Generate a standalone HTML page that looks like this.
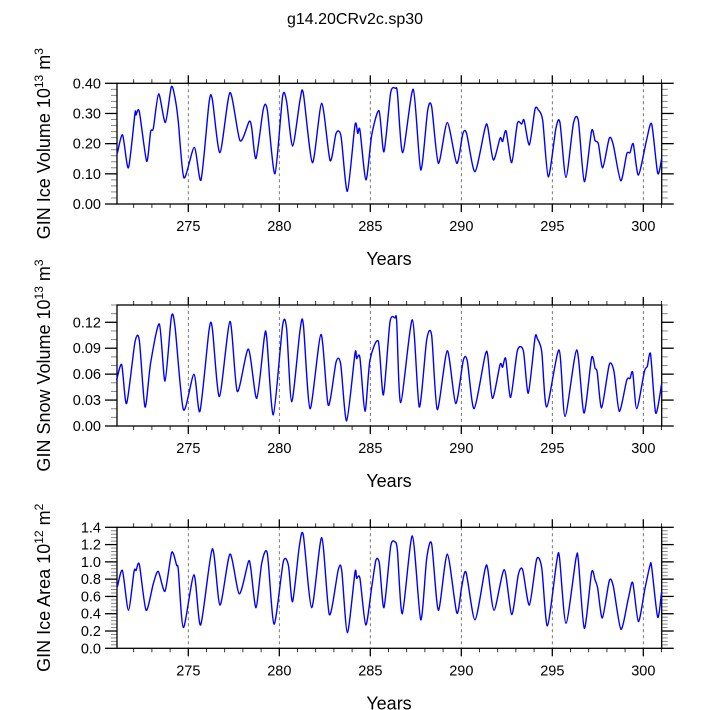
<!DOCTYPE html>
<html><head><meta charset="utf-8"><style>
body{margin:0;background:#fff}
svg{display:block;font-family:"Liberation Sans",Arial,sans-serif}
</style></head><body>
<svg id="chart" width="710" height="710" viewBox="0 0 710 710">
<text x="355" y="24" text-anchor="middle" font-size="16">g14.20CRv2c.sp30</text>
</svg>
<script>
// ---- Data ----
const iceVolYears=[271.10,271.39,271.71,272.07,272.13,272.31,272.71,272.93,273.08,273.37,273.74,274.07,274.29,274.45,274.76,275.33,275.70,276.14,276.32,276.74,277.29,277.84,278.34,278.48,278.72,279.12,279.34,279.76,280.18,280.40,280.73,281.14,281.32,281.82,282.33,282.79,283.12,283.39,283.74,284.16,284.31,284.43,284.76,285.08,285.48,285.75,286.12,286.39,286.49,286.78,287.36,287.77,288.15,288.37,288.74,289.23,289.75,290.08,290.29,290.75,291.30,291.45,291.76,292.13,292.27,292.46,292.77,293.08,293.32,293.45,293.74,294.05,294.23,294.47,294.78,295.20,295.42,295.75,296.16,296.43,296.76,297.16,297.35,297.53,297.77,298.13,298.35,298.76,299.09,299.27,299.45,299.73,300.18,300.46,300.79,301.01];
const iceVolValues=[0.168,0.229,0.120,0.300,0.295,0.306,0.142,0.240,0.251,0.365,0.270,0.389,0.345,0.273,0.087,0.188,0.080,0.336,0.347,0.170,0.369,0.210,0.273,0.254,0.151,0.314,0.312,0.100,0.356,0.340,0.192,0.345,0.367,0.137,0.334,0.144,0.234,0.225,0.042,0.262,0.234,0.245,0.080,0.229,0.309,0.173,0.369,0.383,0.368,0.170,0.380,0.113,0.309,0.323,0.135,0.270,0.135,0.232,0.234,0.107,0.251,0.256,0.146,0.218,0.207,0.242,0.137,0.267,0.265,0.278,0.196,0.314,0.312,0.278,0.090,0.251,0.270,0.088,0.267,0.276,0.074,0.243,0.210,0.200,0.120,0.218,0.196,0.077,0.166,0.170,0.199,0.096,0.212,0.265,0.102,0.151];

const snowYears=[271.06,271.34,271.61,272.07,272.31,272.62,272.93,273.41,273.72,274.07,274.27,274.73,275.31,275.64,276.14,276.32,276.71,277.29,277.69,278.30,278.76,279.18,279.31,279.67,280.18,280.40,280.68,281.14,281.32,281.69,282.29,282.69,283.12,283.37,283.70,284.16,284.25,284.43,284.71,284.98,285.44,285.72,286.08,286.36,286.45,286.67,287.31,287.69,288.10,288.37,288.68,289.23,289.69,290.11,290.33,290.70,291.30,291.45,291.71,292.13,292.27,292.44,292.71,293.08,293.41,293.68,294.05,294.18,294.42,294.69,295.37,295.70,296.34,296.74,297.16,297.35,297.47,297.71,298.13,298.39,298.68,299.09,299.27,299.42,299.64,300.06,300.22,300.40,300.68,301.01];
const snowValues=[0.053,0.071,0.026,0.097,0.099,0.022,0.073,0.118,0.052,0.126,0.115,0.019,0.060,0.017,0.111,0.113,0.034,0.121,0.040,0.089,0.032,0.103,0.102,0.013,0.116,0.113,0.028,0.111,0.118,0.020,0.106,0.024,0.074,0.072,0.006,0.084,0.078,0.079,0.017,0.076,0.098,0.036,0.120,0.125,0.121,0.027,0.123,0.022,0.100,0.105,0.019,0.087,0.026,0.076,0.075,0.020,0.081,0.082,0.032,0.071,0.068,0.078,0.033,0.087,0.087,0.038,0.102,0.101,0.086,0.022,0.088,0.011,0.088,0.015,0.079,0.067,0.062,0.021,0.071,0.063,0.017,0.053,0.055,0.062,0.020,0.063,0.069,0.083,0.015,0.049];

const areaYears=[271.10,271.38,271.71,272.02,272.13,272.31,272.68,273.08,273.35,273.72,274.09,274.36,274.45,274.73,275.31,275.68,276.32,276.74,277.29,277.80,278.30,278.43,278.72,279.03,279.34,279.71,280.22,280.50,280.73,281.10,281.32,281.78,282.33,282.75,283.24,283.43,283.74,284.16,284.25,284.43,284.75,285.08,285.31,285.50,285.75,286.12,286.36,286.49,286.76,287.31,287.77,288.10,288.37,288.74,289.23,289.75,290.02,290.26,290.75,291.30,291.45,291.80,292.36,292.77,293.13,293.37,293.74,294.14,294.42,294.73,295.24,295.39,295.75,296.30,296.43,296.76,297.16,297.35,297.49,297.75,298.13,298.35,298.77,299.18,299.42,299.73,300.09,300.37,300.46,300.79,301.01];
const areaValues=[0.71,0.90,0.44,0.89,0.90,0.97,0.44,0.75,0.89,0.66,1.11,0.96,0.91,0.24,0.85,0.27,1.15,0.50,1.09,0.63,1.00,0.93,0.47,0.98,1.10,0.28,1.00,0.96,0.54,1.18,1.31,0.47,1.28,0.39,0.91,0.90,0.18,0.88,0.81,0.81,0.27,0.71,1.02,0.98,0.47,1.18,1.23,1.13,0.40,1.30,0.33,1.04,1.21,0.44,1.09,0.41,0.71,0.88,0.33,0.91,0.92,0.44,0.91,0.39,0.85,0.91,0.50,1.03,0.93,0.26,1.00,1.06,0.29,1.04,1.02,0.23,0.88,0.79,0.70,0.35,0.78,0.72,0.22,0.58,0.76,0.31,0.69,0.96,0.94,0.36,0.66];

const xTickLabels=[275,280,285,290,295,300];
const iceVolTicks=["0.00","0.10","0.20","0.30","0.40"];
const snowTicks=["0.00","0.03","0.06","0.09","0.12"];
const areaTicks=["0.0","0.2","0.4","0.6","0.8","1.0","1.2","1.4"];

const NS="http://www.w3.org/2000/svg";
const svg=document.getElementById('chart');
function mk(tag,attrs,parent){const e=document.createElementNS(NS,tag);for(const k in attrs)e.setAttribute(k,attrs[k]);(parent||svg).appendChild(e);return e;}
const X0=117,X1=661.7;
function xs(yr){return 115.5+(yr-271)*18.2;}

function panel(cfg){
  const g=mk('g',{});
  
  
  const top=cfg.top,bot=cfg.bot;
  const ys=v=>bot-(v-cfg.ymin)/(cfg.ymax-cfg.ymin)*(bot-top);
  xTickLabels.forEach(t=>{
    const l=mk('line',{x1:xs(t),x2:xs(t),y1:top,y2:bot,stroke:'#555','stroke-width':0.8,'stroke-dasharray':'3,3'},g);
    
    
  });
  for(let yr=272;yr<=301;yr++){
    const major=xTickLabels.includes(yr);
    const len=major?8:4;
    mk('line',{x1:xs(yr),x2:xs(yr),y1:bot,y2:bot+len,stroke:'#000','stroke-width':major?1.3:0.8},g);
    mk('line',{x1:xs(yr),x2:xs(yr),y1:top,y2:top-len,stroke:'#000','stroke-width':major?1.3:0.8},g);
  }
  xTickLabels.forEach(t=>{
    const tx=mk('text',{x:xs(t),y:bot+27,'text-anchor':'middle','font-size':14.5},g);
    tx.textContent=t;
    
    
  });
  const n=Math.round((cfg.ymax-cfg.ymin)/cfg.minor);
  for(let i=0;i<=n;i++){
    const v=cfg.ymin+i*cfg.minor;const y=ys(v);
    const major=Math.abs(((v-cfg.ymin)/cfg.major)-Math.round((v-cfg.ymin)/cfg.major))<1e-6;
    const len=major?12:6;
    mk('line',{x1:X0-len,x2:X0,y1:y,y2:y,stroke:major?'#000':'#888','stroke-width':major?1.3:1},g);
    mk('line',{x1:X1,x2:X1+len,y1:y,y2:y,stroke:major?'#000':'#888','stroke-width':major?1.3:1},g);
  }
  cfg.ticks.forEach((t,i)=>{
    const v=cfg.ymin+i*cfg.major;
    const tx=mk('text',{x:X0-16,y:ys(v)+5,'text-anchor':'end','font-size':14.5},g);
    tx.textContent=t;
    
    
  });
  const fr=mk('rect',{x:X0,y:top,width:X1-X0,height:bot-top,fill:'none',stroke:'#000','stroke-width':1.3},g);
  
  
  const P=cfg.years.map((yr,i)=>[xs(yr),ys(cfg.values[i])]);
  let d='M'+P[0][0].toFixed(2)+','+P[0][1].toFixed(2);
  const k=8;
  for(let i=0;i<P.length-1;i++){
    const p0=P[Math.max(0,i-1)],p1=P[i],p2=P[i+1],p3=P[Math.min(P.length-1,i+2)];
    const c1=[p1[0]+(p2[0]-p0[0])/k,p1[1]+(p2[1]-p0[1])/k];
    const c2=[p2[0]-(p3[0]-p1[0])/k,p2[1]-(p3[1]-p1[1])/k];
    d+=` C${c1[0].toFixed(2)},${c1[1].toFixed(2)} ${c2[0].toFixed(2)},${c2[1].toFixed(2)} ${p2[0].toFixed(2)},${p2[1].toFixed(2)}`;
  }
  const path=mk('path',{d:d,fill:'none',stroke:'#0000ff','stroke-width':1.4,'stroke-linejoin':'round'},g);
  
  
  const xt=mk('text',{x:389,y:bot+61,'text-anchor':'middle','font-size':18},g);
  xt.textContent='Years';
  
  
  const cy=(top+bot)/2;
  const yt=mk('text',{x:0,y:0,'text-anchor':'middle','font-size':18,transform:`translate(50,${cy}) rotate(-90)`},g);
  
  
  yt.innerHTML=cfg.ylabel;
}
panel({name:'ice-volume-panel',top:83.3,bot:204,ymin:0,ymax:0.4,major:0.1,minor:0.02,ticks:iceVolTicks,years:iceVolYears,values:iceVolValues,
  ylabel:'GIN Ice Volume 10<tspan dy="-7" font-size="12">13</tspan><tspan dy="7"> m</tspan><tspan dy="-7" font-size="12">3</tspan>'});
panel({name:'snow-volume-panel',top:305,bot:426,ymin:0,ymax:0.14,major:0.03,minor:0.01,ticks:snowTicks,years:snowYears,values:snowValues,
  ylabel:'GIN Snow Volume 10<tspan dy="-7" font-size="12">13</tspan><tspan dy="7"> m</tspan><tspan dy="-7" font-size="12">3</tspan>'});
panel({name:'ice-area-panel',top:527.3,bot:648.3,ymin:0,ymax:1.4,major:0.2,minor:0.04,ticks:areaTicks,years:areaYears,values:areaValues,
  ylabel:'GIN Ice Area 10<tspan dy="-7" font-size="12">12</tspan><tspan dy="7"> m</tspan><tspan dy="-7" font-size="12">2</tspan>'});
</script>
</body></html>
